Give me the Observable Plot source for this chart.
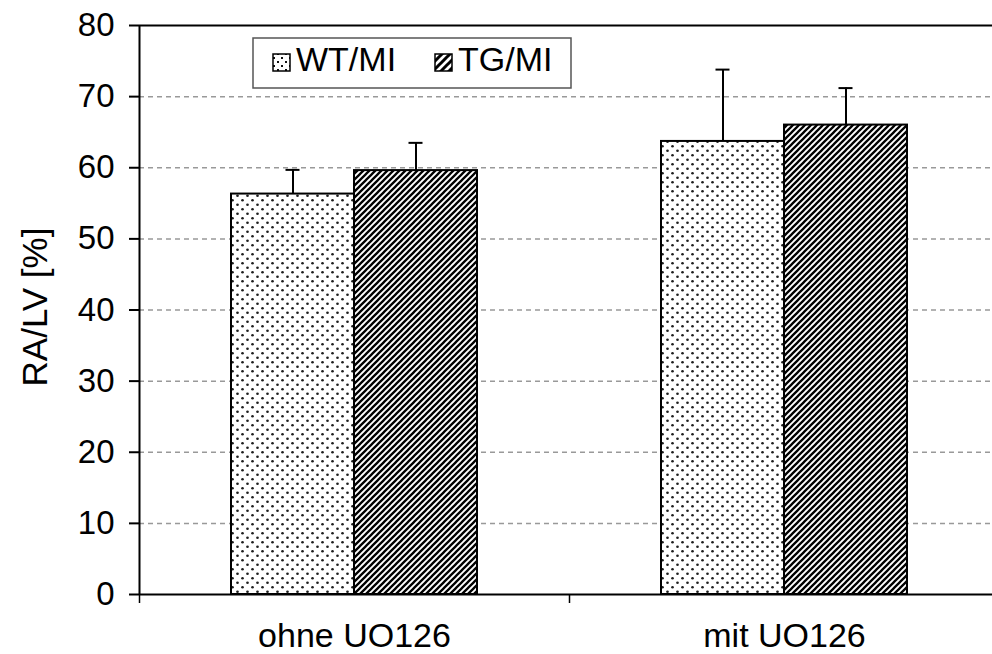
<!DOCTYPE html>
<html>
<head>
<meta charset="utf-8">
<script src="https://cdn.jsdelivr.net/npm/d3@7"></script>
<script src="https://cdn.jsdelivr.net/npm/@observablehq/plot@0.6"></script>
<style>
  html, body { margin: 0; padding: 0; background: #fff; }
</style>
</head>
<body>
<div id="chart"></div>
<script>
// RA/LV ratio (%) with and without UO126, WT/MI vs TG/MI (mean + SD)
const categories = ["ohne UO126", "mit UO126"];
const groups = ["WT/MI", "TG/MI"];
const wtMean = [56.3, 63.7];
const wtSD = [3.4, 10.1];
const tgMean = [59.6, 66.0];
const tgSD = [3.9, 5.2];
const yTicks = [0, 10, 20, 30, 40, 50, 60, 70, 80];
const gridTicks = [10, 20, 30, 40, 50, 60, 70];
const yLabel = "RA/LV [%]";

// layout
const W = 992, H = 654;
const margin = {top: 25, right: -7, bottom: 60, left: 139};
const band = (W - margin.left - margin.right) / categories.length;
const half = band / 2;
const barW = 123;
const capW = 14;
const fontSize = 34;
const font = "'Liberation Sans', Arial, Helvetica, sans-serif";

const series = [
  {name: groups[0], mean: wtMean, sd: wtSD, fill: "url(#dots)", side: -1},
  {name: groups[1], mean: tgMean, sd: tgSD, fill: "url(#stripes)", side: 1}
];

const seriesRows = series.map(s =>
  categories.map((c, i) => ({cat: c, group: s.name, mean: s.mean[i], top: s.mean[i] + s.sd[i]}))
);

const barMarks = series.map((s, k) =>
  Plot.barY(seriesRows[k], {
    x: "cat", y: "mean",
    fill: s.fill, stroke: "black", strokeWidth: 2,
    insetLeft: s.side < 0 ? half - barW : half,
    insetRight: s.side < 0 ? half : half - barW
  })
);

const errorMarks = series.flatMap((s, k) => {
  const off = s.side * barW / 2;
  return [
    Plot.ruleX(seriesRows[k], {x: "cat", y1: "mean", y2: "top", dx: off, stroke: "black", strokeWidth: 2}),
    Plot.tickY(seriesRows[k], {
      x: "cat", y: "top", stroke: "black", strokeWidth: 2,
      insetLeft: half + off - capW / 2,
      insetRight: half - off - capW / 2
    })
  ];
});

const chart = Plot.plot({
  width: W,
  height: H,
  marginTop: margin.top,
  marginRight: margin.right,
  marginBottom: margin.bottom,
  marginLeft: margin.left,
  style: {fontFamily: font, background: "#fff", color: "#000", overflow: "hidden"},
  x: {domain: categories, padding: 0, label: null},
  y: {domain: [0, 80], label: null},
  marks: [
    // dashed gridlines
    Plot.ruleY(gridTicks, {stroke: "#999", strokeWidth: 1.5, strokeDasharray: "5,4"}),
    ...barMarks,
    ...errorMarks,
    // frame lines at 0 and 80
    Plot.ruleY([0, 80], {stroke: "black", strokeWidth: 2}),
    // y axis line at the left edge of the first category
    Plot.ruleX([categories[0]], {x: d => d, dx: -half, y1: 0, y2: 80, stroke: "black", strokeWidth: 2}),
    // category boundary ticks below the x axis
    Plot.ruleX(categories, {x: d => d, dx: -half, y1: 0, y2: 0, insetBottom: -9, stroke: "black", strokeWidth: 1.5}),
    Plot.axisY(yTicks, {tickSize: 10, tickPadding: 15, fontSize: 33, strokeWidth: 2, label: null}),
    Plot.axisX({tickSize: 0, tickPadding: 28, fontSize, label: null}),
    Plot.text([yLabel], {text: d => d, frameAnchor: "left", textAnchor: "middle", rotate: -90, dx: -104, dy: -3, fontSize: 35, fill: "black"})
  ]
});

document.getElementById("chart").appendChild(chart);

// fill patterns
const svg = d3.select(chart);
const defs = svg.insert("defs", ":first-child");

const dots = defs.append("pattern").attr("id", "dots")
  .attr("patternUnits", "userSpaceOnUse").attr("width", 10).attr("height", 9);
dots.append("rect").attr("width", 10).attr("height", 9).attr("fill", "#fff");
dots.append("circle").attr("cx", 2.5).attr("cy", 2.25).attr("r", 1.35).attr("fill", "#1e1e1e");
dots.append("circle").attr("cx", 7.5).attr("cy", 6.75).attr("r", 1.35).attr("fill", "#1e1e1e");

const stripes = defs.append("pattern").attr("id", "stripes")
  .attr("patternUnits", "userSpaceOnUse").attr("width", 6).attr("height", 6);
stripes.append("rect").attr("width", 6).attr("height", 6).attr("fill", "#fff");
stripes.append("path").attr("d", "M0,6L6,0M-3,3L3,-3M3,9L9,3")
  .attr("stroke", "#000").attr("stroke-width", 2.3);

const dotsL = defs.append("pattern").attr("id", "dotsL")
  .attr("patternUnits", "userSpaceOnUse").attr("width", 8).attr("height", 8);
dotsL.append("rect").attr("width", 8).attr("height", 8).attr("fill", "#fff");
dotsL.append("rect").attr("x", 1).attr("y", 1).attr("width", 2).attr("height", 2).attr("fill", "#111");
dotsL.append("rect").attr("x", 5).attr("y", 5).attr("width", 2).attr("height", 2).attr("fill", "#111");

const stripesL = defs.append("pattern").attr("id", "stripesL")
  .attr("patternUnits", "userSpaceOnUse").attr("width", 8).attr("height", 8);
stripesL.append("rect").attr("width", 8).attr("height", 8).attr("fill", "#fff");
stripesL.append("path").attr("d", "M0,8L8,0M-4,4L4,-4M4,12L12,4")
  .attr("stroke", "#000").attr("stroke-width", 3);

// legend box inside the plot area
const lx = margin.left + 114, ly = margin.top + 13;
const legend = svg.append("g").attr("font-family", font).attr("text-anchor", "start");
legend.append("rect").attr("x", lx).attr("y", ly).attr("width", 318).attr("height", 50)
  .attr("fill", "#fff").attr("stroke", "#555").attr("stroke-width", 1.5);
const legendItems = [
  {label: groups[0], fill: "url(#dotsL)", x: lx + 20},
  {label: groups[1], fill: "url(#stripesL)", x: lx + 182}
];
legendItems.forEach(it => {
  legend.append("rect").attr("x", it.x).attr("y", ly + 16).attr("width", 17).attr("height", 17)
    .attr("fill", it.fill).attr("stroke", "#000").attr("stroke-width", 1.5);
  legend.append("text").attr("x", it.x + 23).attr("y", ly + 33)
    .attr("text-anchor", "start")
    .attr("font-size", 34).attr("fill", "#000").text(it.label);
});
</script>
</body>
</html>
